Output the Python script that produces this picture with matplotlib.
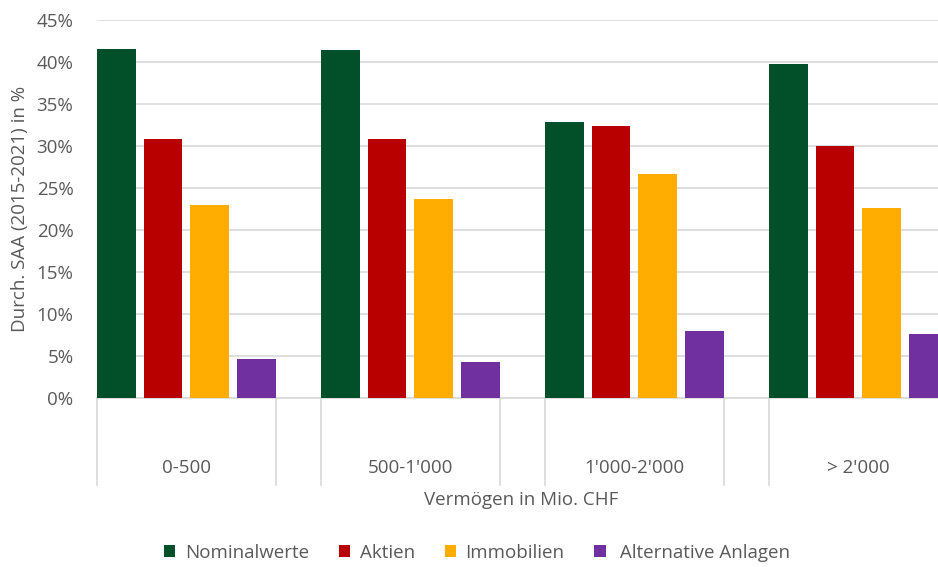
import numpy as np
import matplotlib.pyplot as plt
from matplotlib.patches import Patch

plt.rcParams['font.family'] = ['Open Sans', 'DejaVu Sans']

# Durchschnittliche SAA je Vermögensklasse
kategorien = ["0-500", "500-1'000", "1'000-2'000", "> 2'000"]
serien = ["Nominalwerte", "Aktien", "Immobilien", " Alternative Anlagen"]
nominalwerte = [41.5, 41.4, 32.9, 39.8]
aktien = [30.9, 30.8, 32.4, 30.0]
immobilien = [23.0, 23.7, 26.7, 22.6]
alternative = [4.7, 4.3, 8.0, 7.6]
farben = ["#02502a", "#b90000", "#ffad00", "#7030a0"]
yticks = np.arange(0, 46, 5)

werte = [nominalwerte, aktien, immobilien, alternative]

text_col = "#595959"
grid_col = "#d9d9d9"
fs = 13.5

W, H = 938, 567
fig = plt.figure(figsize=(W / 100, H / 100), dpi=100)

# Einheiten: 1 = Abstand zwischen zwei Balken (ca. 46.7 px)
pitch_px = 46.67
bar_w = 0.825
periode = 4.8
gruppe_breite = 3 + bar_w
x_max = 3 * periode + gruppe_breite + 0.2

left_px, bottom_px, top_px = 97, 398.3, 20
ax_w_px = x_max * pitch_px
ax_h_px = bottom_px - top_px
ax = fig.add_axes([left_px / W, 1 - bottom_px / H, ax_w_px / W, ax_h_px / H])

for j, (name, vals) in enumerate(zip(serien, werte)):
    xs = np.arange(len(kategorien)) * periode + j
    ax.bar(xs, vals, width=bar_w, align='edge', color=farben[j], zorder=3)

ax.set_xlim(0, x_max)
ax.set_ylim(0, 45)
ax.set_yticks(yticks)
ax.set_yticklabels([f"{t}%" for t in yticks])
ax.yaxis.grid(True, color=grid_col, linewidth=1.2, zorder=0)
ax.set_axisbelow(True)
ax.tick_params(axis='y', length=0, pad=17, labelsize=fs, labelcolor=text_col)
ax.tick_params(axis='x', length=0, labelbottom=False)
for s in ['top', 'right', 'left']:
    ax.spines[s].set_visible(False)
ax.spines['bottom'].set_color(grid_col)
ax.spines['bottom'].set_linewidth(1.2)

ax.set_ylabel("Durch. SAA (2015-2021) in %", fontsize=fs, color=text_col)
ax.yaxis.set_label_coords((29 - left_px) / ax_w_px, 0.5)

# Trennlinien und Beschriftungen der Kategorien
trans = ax.get_xaxis_transform()
tief = -(485 - bottom_px) / ax_h_px
for i, kat in enumerate(kategorien):
    start = i * periode
    ende = start + gruppe_breite
    for xv in (start, ende):
        ax.plot([xv, xv], [0, tief], color=grid_col, linewidth=1.2,
                transform=trans, clip_on=False)
    ax.text(start + gruppe_breite / 2, -(468 - bottom_px) / ax_h_px, kat,
            transform=trans, ha='center', va='center', fontsize=fs, color=text_col)

fig.text(521 / W, 1 - 500 / H, "Vermögen in Mio. CHF", ha='center', va='center',
         fontsize=fs, color=text_col)

handles = [Patch(facecolor=c, edgecolor='none') for c in farben]
fig.legend(handles, serien, loc='center', bbox_to_anchor=(477 / W, 1 - 553 / H),
           ncol=4, frameon=False, fontsize=fs, labelcolor=text_col,
           handlelength=0.6, handleheight=0.6, handletextpad=0.5, columnspacing=1.6)

fig.savefig("out.png", dpi=100)
